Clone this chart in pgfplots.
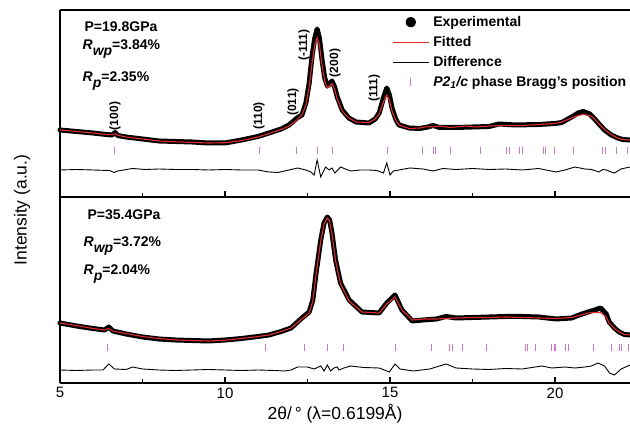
\documentclass[border=0pt]{standalone}
\usepackage{fontspec}
\setmainfont{Liberation Sans}
\usepackage{pgfplots}
\pgfplotsset{compat=1.18}
\definecolor{fitred}{RGB}{225,45,45}
\definecolor{bragg}{RGB}{200,120,200}

\pgfplotstableread{
x y
5.00 67
5.50 65.5
6.00 64
6.40 62.5
6.58 62
6.67 64.5
6.75 61.5
7.00 60
7.50 58
8.00 56
8.50 55.5
9.00 55
9.50 54
10.00 54
10.50 57
11.00 60.5
11.33 64
11.70 68
11.94 72
12.18 79
12.33 82
12.45 94
12.55 114
12.64 142
12.72 159
12.79 168
12.86 159
12.94 137
13.02 119
13.10 111
13.17 113
13.24 116
13.32 110
13.40 100
13.55 87
13.75 79
13.97 75
14.36 74
14.55 78
14.67 84
14.80 99
14.90 109
14.98 102
15.06 89
15.17 78
15.27 72
15.58 69
15.90 68.5
16.15 70
16.30 71.5
16.50 69.5
17.00 69.5
17.50 70
18.00 70.5
18.30 73
18.80 72
19.50 72.5
20.00 73.5
20.20 74.5
20.50 80
20.70 84
20.85 85.5
21.05 83
21.20 78
21.33 73
21.50 67
21.70 62
21.90 59
22.05 57.5
22.27 57
}\topexp

\pgfplotstableread{
x y
5.00 67
5.50 65.5
6.00 64
6.40 62.5
6.60 62.3
6.67 63.3
6.75 61.7
7.00 60
7.50 58
8.00 56
8.50 55.2
9.00 54.6
9.50 54
10.00 54.3
10.50 56.5
11.00 60
11.33 63.5
11.70 67.5
11.94 71
12.18 77
12.33 82
12.45 92
12.55 110
12.64 135
12.72 152
12.79 159
12.86 152
12.94 132
13.02 116
13.10 109
13.17 111
13.24 113.5
13.32 108
13.40 98
13.55 86
13.75 79
13.97 75
14.36 74.5
14.55 78
14.67 83
14.80 95
14.90 102
14.98 97
15.06 86
15.17 77
15.27 72
15.58 68.5
15.90 69
16.15 70.5
16.30 70
16.50 71
16.80 69.5
17.00 70
17.30 71
17.60 70
18.00 71
18.50 71.5
19.00 71.5
19.50 72.5
20.00 73.5
20.20 75
20.50 79
20.70 81.5
20.85 82.5
21.05 81.5
21.20 78
21.33 73
21.50 67.5
21.70 62.5
21.90 59
22.05 57.5
22.27 57
}\topfit

\pgfplotstableread{
x y
5.00 27
5.50 27.5
6.00 27
6.50 26.5
6.64 24.5
6.75 26
7.20 28.5
7.60 27.5
8.00 28
8.50 27.5
9.00 27.5
9.50 27
10.00 27.5
10.50 27
11.00 27
11.33 25
11.60 24.5
11.94 27
12.20 29
12.45 27
12.60 25
12.70 22
12.79 37
12.90 20
13.05 30
13.15 27
13.24 29
13.33 24
13.50 30
13.80 26
14.10 27
14.36 27
14.60 26.5
14.80 24
14.90 34
15.00 22
15.10 26
15.27 27
15.60 29
16.00 28
16.30 26
16.60 28.5
17.00 27.5
17.50 28.5
18.00 27.5
18.50 28
19.00 27
19.50 28.5
20.03 25
20.30 27
20.60 30
20.90 28
21.10 27.5
21.33 25
21.45 27.5
21.55 27
21.70 25
21.80 24
22.00 28
22.27 30
}\topdiff

\pgfplotstableread{
x y
6.64 46.5
11.03 46.5
12.18 46.5
12.79 46.5
13.27 46.5
14.91 46.5
15.97 46.5
16.33 46.5
16.39 46.5
16.82 46.5
17.73 46.5
18.52 46.5
18.62 46.5
18.93 46.5
19.01 46.5
19.64 46.5
19.70 46.5
19.97 46.5
20.55 46.5
21.43 46.5
21.52 46.5
21.86 46.5
22.18 46.5
}\topbragg

\pgfplotstableread{
x y
5.00 60
5.50 57
6.00 54.5
6.35 53
6.48 56
6.60 52
7.00 49
7.50 46
8.00 44
8.50 43
9.00 42.5
9.50 42
10.00 43
10.50 44.5
11.00 46.5
11.33 48
11.70 51.5
12.00 55
12.33 65
12.55 71
12.66 83
12.76 110
12.90 143
13.00 160
13.10 166
13.17 163
13.24 150
13.35 123
13.50 100
13.76 83
14.15 71
14.67 70
14.90 80
15.15 88
15.36 73
15.67 62
16.00 63
16.40 64
16.70 66.5
17.00 65
17.50 65.5
18.00 66
18.50 66.5
19.00 66.5
19.50 66
20.03 64
20.50 65
20.73 68
21.00 71
21.20 73
21.38 75
21.55 69
21.64 61
21.80 55
21.94 51
22.10 48.5
22.27 48
}\botexp

\pgfplotstableread{
x y
5.00 60
5.50 57.5
6.00 54.5
6.35 53
6.48 54.5
6.60 52
7.00 49.5
7.50 46.5
8.00 44.5
8.50 43
9.00 42.5
9.50 42
10.00 42.8
10.50 44.5
11.00 46.5
11.33 48
11.70 51.5
12.00 55
12.33 64
12.55 70
12.66 82
12.76 109
12.90 142
13.00 159
13.10 165
13.17 162
13.24 149
13.35 122
13.50 99
13.76 82
14.15 71
14.67 70
14.90 79
15.15 86
15.36 73
15.67 63
16.00 64
16.40 64
16.70 64.5
17.00 65
17.50 65.5
18.00 65.5
18.50 66
19.00 65.5
19.50 65
20.03 64.5
20.50 65.5
20.73 67.5
21.00 70
21.20 70.5
21.38 70.5
21.55 66
21.64 60
21.80 54.5
21.94 51
22.10 48.5
22.27 48
}\botfit

\pgfplotstableread{
x y
5.00 13
5.50 12.5
6.00 13
6.30 13
6.48 19
6.65 14
7.00 13.5
7.20 16
7.50 14
8.00 13
8.50 12.5
9.00 13
9.50 13.5
10.00 13
10.50 12.5
11.00 13
11.50 12.5
11.80 12
12.00 13
12.20 16
12.50 16
12.70 14
12.90 17
13.00 12
13.10 18
13.20 12
13.30 15
13.40 16
13.45 13
13.60 15
13.80 17
14.20 15.5
14.67 15
14.98 11
15.15 19
15.30 14
15.70 12
16.20 14
16.70 19
17.00 15
17.50 14
18.00 13.5
18.50 14.5
19.00 14
19.60 17
19.90 15
20.30 16
20.60 15
20.90 16
21.10 17
21.30 20
21.50 17
21.65 10
21.80 8
22.00 14
22.27 18
}\botdiff

\pgfplotstableread{
x y
6.45 35.5
11.24 35.5
12.42 35.5
13.09 35.5
13.58 35.5
15.15 35.5
16.27 35.5
16.79 35.5
16.88 35.5
17.21 35.5
17.91 35.5
19.11 35.5
19.16 35.5
19.41 35.5
19.90 35.5
19.97 35.5
20.02 35.5
20.32 35.5
20.42 35.5
21.16 35.5
21.72 35.5
21.94 35.5
22.02 35.5
22.22 35.5
}\botbragg

\pgfplotsset{
  panel/.style={
    scale only axis, width=570pt, xmin=5, xmax=22.27, ymin=0,
    axis x line*=box, axis y line*=left,
    axis line style={line width=1.4pt, black},
    x axis line style={-}, y axis line style={-},
    xtick={5,10,15,20}, minor xtick={7.5,12.5,17.5},
    xtick pos=left, tick align=inside, ytick=\empty,
    major tick length=6pt, minor tick length=4pt,
    every tick/.style={black, line width=1.2pt},
    clip=false,
    /pgf/number format/assume math mode=true,
    xticklabel style={font=\fontsize{15}{18}\selectfont, yshift=-1pt},
  },
  expstyle/.style={black, line width=5pt, line join=round, line cap=round,
    legend image code/.code={\fill[black] (18pt,0pt) circle (2.7pt);}},
  fitstyle/.style={fitred, line width=1.1pt,
    legend image code/.code={\draw[fitred, line width=1.1pt] (0pt,0pt) -- (36pt,0pt);}},
  diffstyle/.style={black, line width=0.9pt,
    legend image code/.code={\draw[black, line width=1.1pt] (0pt,0pt) -- (36pt,0pt);}},
  braggstyle/.style={bragg, only marks, mark=|, mark size=3.8pt, mark options={line width=1pt},
    legend image code/.code={\draw[bragg, line width=1pt] (18pt,-4pt) -- (18pt,4pt);}},
}

\begin{document}
\begin{tikzpicture}
\useasboundingbox (0,0) rectangle (630pt,431pt);

% top panel
\begin{axis}[panel, at={(60pt,234pt)}, anchor=south west, height=187pt, ymax=187,
  xticklabels={},
  legend style={draw=none, fill=none, at={(0.5825,0.976)}, anchor=north west,
    inner sep=0pt, row sep=5pt, column sep=3pt,
    font=\fontsize{14}{16}\selectfont\bfseries,
    nodes={inner sep=1pt, text height=10.5pt, text depth=2.5pt}},
  legend cell align=left]
\addplot[expstyle] table {\topexp};
\addlegendentry{Experimental}
\addplot[fitstyle] table {\topfit};
\addlegendentry{Fitted}
\addplot[diffstyle] table {\topdiff};
\addlegendentry{Difference}
\addplot[braggstyle] table {\topbragg};
\addlegendentry{\textit{P2}\textsubscript{\textit{1}}\textit{/c} phase Bragg's position}

\node[anchor=base west, font=\fontsize{14}{16}\selectfont\bfseries] at (axis cs:5.64,165) {P=19.8GPa};
\node[anchor=base west, font=\fontsize{14}{16}\selectfont\bfseries] at (axis cs:5.58,147) {\textit{R}\raisebox{-6pt}{\textit{wp}}=3.84\%};
\node[anchor=base west, font=\fontsize{14}{16}\selectfont\bfseries] at (axis cs:5.58,115) {\textit{R}\raisebox{-6pt}{\textit{p}}=2.35\%};

\node[rotate=90, font=\fontsize{12}{14}\selectfont\bfseries] at (axis cs:6.67,81) {(100)};
\node[rotate=90, font=\fontsize{12}{14}\selectfont\bfseries] at (axis cs:11.03,81) {(110)};
\node[rotate=90, font=\fontsize{12}{14}\selectfont\bfseries] at (axis cs:12.06,95) {(011)};
\node[rotate=90, font=\fontsize{12}{14}\selectfont\bfseries] at (axis cs:12.39,152) {(-111)};
\node[rotate=90, font=\fontsize{12}{14}\selectfont\bfseries] at (axis cs:13.33,134) {(200)};
\node[rotate=90, font=\fontsize{12}{14}\selectfont\bfseries] at (axis cs:14.52,109) {(111)};
\end{axis}

% bottom panel
\begin{axis}[panel, at={(60pt,48pt)}, anchor=south west, height=186pt, ymax=186,
  xlabel={2θ/\,° (λ=0.6199Å)},
  xlabel style={at={(axis description cs:0.4825,-0.1667)}, anchor=center, font=\fontsize{17.5}{20}\selectfont},
  ylabel={Intensity (a.u.)},
  ylabel style={at={(axis description cs:-0.0667,0.930)}, anchor=center, font=\fontsize{17.5}{20}\selectfont}]
\addplot[expstyle] table {\botexp};
\addplot[fitstyle] table {\botfit};
\addplot[diffstyle] table {\botdiff};
\addplot[braggstyle] table {\botbragg};

\node[anchor=base west, font=\fontsize{14}{16}\selectfont\bfseries] at (axis cs:5.73,163) {P=35.4GPa};
\node[anchor=base west, font=\fontsize{14}{16}\selectfont\bfseries] at (axis cs:5.61,136) {\textit{R}\raisebox{-6pt}{\textit{wp}}=3.72\%};
\node[anchor=base west, font=\fontsize{14}{16}\selectfont\bfseries] at (axis cs:5.61,108) {\textit{R}\raisebox{-6pt}{\textit{p}}=2.04\%};
\end{axis}
\end{tikzpicture}
\end{document}
